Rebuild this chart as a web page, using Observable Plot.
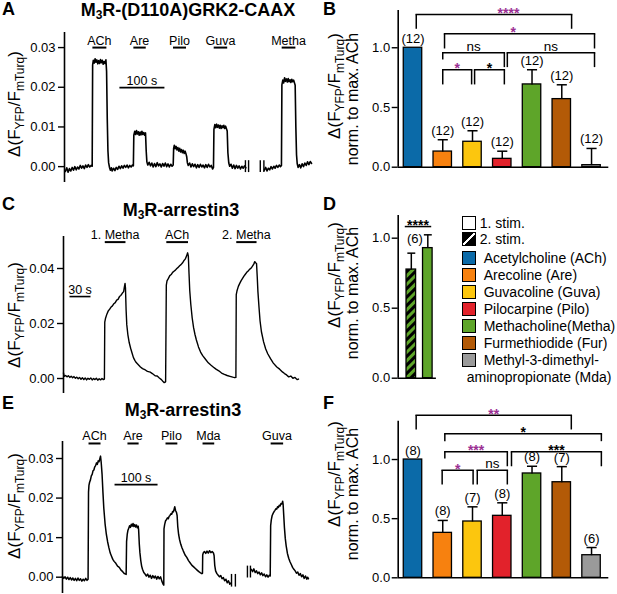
<!DOCTYPE html>
<html><head><meta charset="utf-8">
<script src="https://cdn.jsdelivr.net/npm/d3@7"></script>
<script src="https://cdn.jsdelivr.net/npm/@observablehq/plot@0.6"></script>
<style>
body{margin:0;background:#fff;font-family:"Liberation Sans",Arial,sans-serif;color:#000;}
#fig{position:relative;width:617px;height:594px;overflow:hidden;background:#fff;}
#fig svg{position:absolute;}
.letter{position:absolute;font-weight:bold;font-size:18px;line-height:1;}
.title{position:absolute;font-weight:bold;font-size:18px;line-height:1;white-space:nowrap;transform:translateX(-50%);}
.title sub{font-size:12px;vertical-align:-3px;line-height:0;}
.lrow{position:absolute;display:flex;align-items:center;font-size:14px;white-space:nowrap;height:16px;line-height:16px;}
.box{width:14px;height:14px;border:1px solid #000;box-sizing:border-box;flex:none;}
</style></head><body><div id="fig"></div>
<script>
// ---------- DATA ----------
// Panel A trace (time s, ΔF ratio ×1e-3)
const traceA1 = [[0,-1.2],[3,-0.3],[6,-1.4],[9,-0.5],[12,-1.1],[15,-0.2],[18,-0.9],[21,0.0],[24,-0.8],[27,-0.1],[30,-0.6],[33,0.3],[36,-0.4],[39,0.2],[42,-0.5],[45,0.4],[48,-0.2],[51,0.5],[54,-0.1],[57,0.3],[59.5,0.1],
[60.5,25.6],[62,26.8],[64,26.1],[66,27.2],[68,26.3],[70,26.9],[72,25.9],[74,26.7],[76,26.0],[78,27.0],[80,26.2],[82,26.8],[84,25.8],[86,26.5],[88,26.0],[90,26.9],[91.5,24.0],[93,12.0],[94.5,4.0],[96,1.0],[98,-0.2],[100,-0.9],[102,-0.3],[104,-1.1],[107,-0.4],[110,-1.0],[113,-0.2],[116,-0.7],[119,0.1],[122,-0.5],[125,0.2],[128,-0.4],[131,0.3],[134,-0.2],[137,0.4],[140,-0.3],[143,0.3],[146,-0.1],[149,0.4],
[151,0.2],[152,7.9],[154,8.9],[156,8.1],[158,9.1],[160,8.2],[162,8.8],[164,7.9],[166,8.7],[168,8.0],[170,8.9],[172,8.1],[174,8.6],[176,7.9],[178,8.5],[179.5,4.0],[181,1.2],[183,0.4],[186,1.1],[189,0.2],[192,0.9],[195,-0.1],[198,0.8],[201,0.0],[204,1.0],[207,0.2],[210,0.7],[213,-0.1],[216,0.8],[219,0.1],[222,0.9],[225,0.0],[228,0.7],[231,-0.1],[234,0.6],[237,0.1],[239.5,0.4],
[240.5,4.6],[242,5.4],[244,4.5],[246,5.1],[248,4.2],[250,4.8],[252,3.9],[254,4.6],[256,3.7],[258,4.3],[260,3.5],[262,4.1],[264,3.3],[266,3.9],[268,3.2],[269.5,2.5],[271,1.0],[273,0.3],[276,0.9],[279,-0.1],[282,0.7],[285,0.0],[288,0.6],[291,-0.3],[294,0.5],[297,-0.2],[300,0.6],[303,-0.1],[306,0.4],[309,-0.3],[312,0.5],[315,-0.2],[318,0.6],[321,-0.1],[324,0.3],[327,-0.6],[329,-0.2],
[330,9.4],[332,10.6],[334,9.8],[336,10.7],[338,9.9],[340,10.5],[342,9.7],[344,10.4],[346,9.6],[348,10.3],[350,9.8],[352,10.4],[354,9.6],[356,10.2],[358,9.5],[359.5,9.0],[361,3.5],[363,0.9],[365,0.1],[368,0.6],[371,-0.4],[374,0.4],[377,-0.5],[380,0.3],[383,-0.4],[386,0.2],[389,-0.6],[392,0.1],[395,-0.4],[398,0.2],[401,-0.3]];
const traceA2 = [[442,-0.9],[445,-0.2],[448,-1.1],[451,-0.4],[454,-0.8],[457,0.0],[460,-0.6],[463,0.1],[466,-0.4],[469,0.3],[472,-0.2],[475,0.4],[478,0.0],[480,0.3],
[481,20.6],[483,21.8],[485,21.1],[487,22.4],[489,21.5],[491,22.1],[493,21.3],[495,22.2],[497,21.4],[499,21.9],[501,21.2],[503,22.0],[505,21.4],[507,21.8],[509,21.1],[510.5,20.5],[512,10.0],[513.5,3.0],[515,0.8],[517,-0.2],[520,0.5],[523,-0.3],[526,0.7],[529,0.0],[532,0.9],[535,0.3],[538,1.2],[541,0.5],[544,1.3],[547,0.8]];
const stimsA = [{label:"ACh",on:60,off:91},{label:"Are",on:151,off:178.5},{label:"Pilo",on:239,off:268},{label:"Guva",on:329.5,off:359.5},{label:"Metha",on:480.5,off:511}];
const breaksA = [400,407,433,441];

// Panel C trace
const traceC = [[0,2.0],[1,0.8],[3,1.1],[5,0.6],[7,1.0],[9,0.4],[11,0.8],[13,0.3],[15,0.7],[17,0.1],[19,0.5],[21,-0.1],[23,0.4],[25,-0.3],[27,0.3],[29,-0.4],[31,0.2],[33,-0.5],[35,0.1],[37,-0.3],[39,0.2],[41,-0.5],[43,0.0],[45,-0.4],[47,0.1],[49,-0.6],[51,-0.1],[53,-0.5],[55,0.0],[57,-0.4],[58.5,-0.2],
[59,20.5],[60,21.8],[62,23.4],[64,24.6],[66,25.2],[68,26.0],[70,26.4],[72,27.2],[74,27.6],[76,28.5],[78,28.8],[80,29.8],[82,30.2],[84,31.0],[86,31.6],[87,33.2],[88,34.6],[88.6,33.0],
[89.5,25.0],[90.5,19.5],[92,16.0],[94,13.0],[96,11.0],[98,9.3],[100,7.6],[102,6.6],[104,5.8],[107,5.0],[110,4.2],[113,3.6],[117,3.1],[120,2.6],[124,2.3],[127,1.8],[131,1.0],[134,0.9],[137,0.2],[140,-0.4],[142,-1.0],[144,-1.5],[146,-1.2],
[147,34.0],[148,35.5],[150,36.4],[152,37.4],[154,37.8],[156,38.6],[158,39.0],[160,39.4],[162,40.0],[164,40.4],[166,41.0],[168,41.4],[170,42.0],[172,42.8],[174,43.4],[176,44.6],[177.5,45.7],[178.5,44.5],
[179.5,38.0],[180.5,32.0],[182,27.0],[184,22.0],[186,18.5],[188,16.0],[190,14.0],[193,11.5],[196,9.6],[199,8.3],[203,7.0],[207,5.7],[211,4.8],[214,4.2],[218,3.4],[222,2.8],[226,2.0],[230,1.5],[234,1.1],[238,0.8],[242,0.5],[245,0.3],[246.5,0.4],
[247,30.5],[248,31.8],[250,33.5],[252,34.6],[254,35.6],[256,36.4],[258,37.2],[260,37.9],[262,38.6],[264,39.1],[266,39.7],[268,40.1],[270,40.8],[272,41.6],[273.5,42.5],[275,42.0],[276,41.8],
[277,37.0],[278,31.5],[279.5,26.0],[281,21.0],[283,17.0],[286,13.4],[289,10.8],[292,9.0],[296,7.2],[300,5.6],[305,4.2],[309,3.4],[313,2.4],[316,1.8],[319,1.3],[322,0.6],[325,0.9],[328,0.1],[331,0.4],[334,-0.4],[336,-0.2]];
const stimsC = [{label:"1. Metha",on:59,off:88.6},{label:"ACh",on:147,off:178},{label:"2. Metha",on:247,off:276}];

// Panel E trace
const traceE1 = [[0,0.2],[3,-0.3],[6,0.1],[9,-0.5],[12,0.0],[15,-0.6],[18,-0.1],[21,-0.7],[24,-0.2],[27,-0.8],[30,-0.3],[33,-0.9],[36,-0.2],[39,-0.8],[42,-0.4],[45,-1.0],[48,-0.5],[51,-0.9],[54,-0.3],[57,-0.8],[59.5,-0.5],
[60.5,21.5],[61.5,23.2],[63,24.0],[65,24.6],[67,25.6],[69,26.0],[71,26.9],[73,27.1],[75,27.9],[77,28.2],[79,28.9],[81,28.5],[83,29.4],[85,29.2],[87,30.0],[88.4,30.6],[90,29.0],
[92,26.0],[94,21.5],[96,17.5],[99,13.5],[102,10.8],[105,8.9],[108,7.4],[111,6.1],[114,5.3],[117,4.5],[120,4.0],[124,3.5],[128,2.8],[132,2.5],[136,1.8],[140,1.4],[144,0.9],[148,0.7],
[149,9.0],[150.5,10.8],[152,11.8],[154,12.4],[156,13.0],[158,12.6],[160,13.4],[162,12.9],[164,13.6],[166,12.8],[168,13.3],[170,12.7],[172,13.2],[174,12.5],[176,12.9],[177,12.0],
[178.5,8.5],[180,6.2],[182,4.2],[184,2.8],[186,2.0],[189,1.2],[192,0.8],[195,0.3],[198,0.8],[201,0.0],[204,0.5],[207,-0.3],[210,0.4],[213,-0.2],[216,0.3],[219,-0.5],[222,0.2],[225,-0.4],[228,0.1],[231,-1.0],[234,-1.8],[235.5,-2.0],
[236,12.2],[237.5,13.3],[239.5,14.2],[242,14.6],[244,15.0],[246,14.8],[248,15.4],[250,15.6],[252,16.0],[254,15.9],[256,16.6],[258,16.5],[260,17.4],[261,17.8],[263,16.8],[265,16.4],[266.5,15.6],
[268,12.8],[270,10.8],[272,9.6],[275,8.3],[278,7.4],[281,6.6],[285,5.6],[289,5.0],[293,4.2],[297,3.6],[301,3.0],[305,2.6],[309,2.2],[313,1.8],[317,1.4],[321,1.1],[324,0.9],[325.5,1.0],
[326,5.6],[327.5,6.2],[330,6.5],[333,6.0],[336,6.6],[339,6.1],[342,6.7],[345,6.2],[348,6.5],[351,6.1],[352.5,5.5],
[354,3.0],[356,1.6],[359,0.9],[362,0.5],[365,0.1],[368,0.4],[371,-0.4],[374,-0.1],[377,-0.9],[380,-0.5],[383,-1.4],[386,-0.9],[389,-1.8],[391,-1.5]];
const traceE2 = [[439,2.0],[442,1.4],[445,2.1],[448,1.2],[451,1.6],[454,0.9],[457,1.3],[460,0.6],[463,1.1],[466,0.4],[469,0.8],[472,0.1],[475,0.6],[478,0.0],[481,0.5],[483,0.3],
[484,13.0],[485.5,14.5],[487.5,15.6],[490,16.2],[492,16.6],[494,16.9],[496,17.3],[498,17.2],[500,17.8],[502,17.6],[504,18.2],[506,18.0],[508,18.6],[510,18.5],[512,19.2],[513,18.4],
[514.5,15.5],[516,12.6],[518,9.8],[520,8.0],[523,6.0],[526,4.8],[529,3.9],[532,3.2],[535,2.5],[538,2.0],[541,1.6],[544,1.0],[547,1.3],[550,0.5],[553,0.9],[556,0.1],[559,0.6],[562,-0.3],[565,0.3],[568,-0.5],[570,0.0],[572,-0.4]];
const stimsE = [{label:"ACh",on:60.5,off:88.4},{label:"Are",on:151,off:177},{label:"Pilo",on:239.5,off:267},{label:"Mda",on:325.6,off:352.8},{label:"Guva",on:484,off:513}];
const breaksE = [[393,0.7,-2.5],[402,0.7,-2.5],[430,2.8,-0.2],[437,2.8,-0.2]];

// Bar panels
const agents = ["ACh","Are","Guva","Pilo","Metha","Fur","Mda"];
const agentColors = ["#0b6aa8","#f7810f","#fcc60e","#e2222b","#5ea529","#b35a07","#9a9a9a"];
const meanB = [1.0,0.131,0.213,0.070,0.693,0.570,0.017];
const errB  = [0,0.099,0.092,0.064,0.123,0.120,0.140];
const nB    = [12,12,12,12,12,12,12];
const meanF = [1.0,0.380,0.476,0.524,0.882,0.808,0.191];
const errF  = [0,0.105,0.124,0.110,0.061,0.132,0.065];
const nF    = [8,8,7,8,8,7,6];
const stimD = ["2. stim.","1. stim."];
const meanD = [0.776,0.929];
const errD  = [0.117,0.095];
const nD = 6;

const PURPLE = "#9b2f93";
const sigB = [
  {x1:0.11,x2:5.33,y:1.279,yl:1.159,yr:1.159,label:"****",lx:3.21,color:PURPLE},
  {x1:1.06,x2:6.10,y:1.117,yl:0.994,yr:0.994,label:"*",lx:3.37,color:PURPLE},
  {x1:1.00,x2:3.07,y:0.958,yl:0.902,yr:0.838,label:"ns",color:"#000"},
  {x1:3.17,x2:6.10,y:0.958,yl:0.838,yr:0.838,label:"ns",color:"#000"},
  {x1:1.00,x2:1.97,y:0.816,yl:0.693,yr:0.693,label:"*",color:PURPLE},
  {x1:2.07,x2:3.07,y:0.816,yl:0.693,yr:0.693,label:"*",color:"#000"}
];
const sigF = [
  {x1:0.107,x2:5.32,y:1.375,yl:1.254,yr:1.254,label:"**",color:PURPLE},
  {x1:1.07,x2:6.33,y:1.217,yl:1.155,yr:1.155,label:"*",color:"#000"},
  {x1:1.07,x2:3.17,y:1.065,yl:1.008,yr:0.943,label:"***",color:PURPLE},
  {x1:3.31,x2:6.33,y:1.065,yl:0.943,yr:0.943,label:"***",color:"#000"},
  {x1:0.98,x2:2.02,y:0.910,yl:0.789,yr:0.789,label:"*",color:PURPLE},
  {x1:2.16,x2:3.17,y:0.910,yl:0.789,yr:0.789,label:"ns",color:"#000"}
];
const sigD = [{x1:-0.35,x2:1.16,y:1.083,yl:1.083,yr:1.083,label:"****",color:"#000"}];

const legendRows = [
  {label:"1. stim.", kind:"white"},
  {label:"2. stim.", kind:"hatch"},
  {label:"Acetylcholine (ACh)", color:agentColors[0]},
  {label:"Arecoline (Are)", color:agentColors[1]},
  {label:"Guvacoline (Guva)", color:agentColors[2]},
  {label:"Pilocarpine (Pilo)", color:agentColors[3]},
  {label:"Methacholine(Metha)", color:agentColors[4]},
  {label:"Furmethiodide (Fur)", color:agentColors[5]},
  {label:"Methyl-3-dimethyl-", color:agentColors[6], cont:"aminopropionate (Mda)"}
];

// ---------- HELPERS ----------
const FONT = "'Liberation Sans', Arial, sans-serif";
const fig = document.getElementById("fig");
const toPts = arr => arr.map(([t,v]) => ({t, v: v/1000}));

function place(svg, left, top){ svg.style.left = left+"px"; svg.style.top = top+"px"; fig.appendChild(svg); return svg; }
function html(tag, cls, css, content){ const e = document.createElement(tag); if (cls) e.className = cls; Object.assign(e.style, css); if (content!=null) e.innerHTML = content; fig.appendChild(e); return e; }

function deltaLabel(sel, x, y, size){
  const sub = Math.round(size*0.68);
  const t = sel.append("text").attr("transform",`translate(${x},${y}) rotate(-90)`)
    .attr("text-anchor","middle").attr("font-size",size).attr("font-family",FONT).attr("fill","#000");
  t.append("tspan").text("Δ(F");
  t.append("tspan").attr("font-size",sub).attr("dy",4).text("YFP");
  t.append("tspan").attr("dy",-4).text("/F");
  t.append("tspan").attr("font-size",sub).attr("dy",4).text("mTurq");
  t.append("tspan").attr("dy",-4).text(")");
}
function normLabel(sel, x, y, size){
  sel.append("text").attr("transform",`translate(${x},${y}) rotate(-90)`)
    .attr("text-anchor","middle").attr("font-size",size).attr("font-family",FONT).attr("fill","#000")
    .text("norm. to max. ACh");
}
const style = {fontFamily: FONT, fontSize:"13px", color:"#000", background:"transparent", overflow:"visible"};

function tracePanel(o){
  const marks = [
    Plot.ruleX([o.xdom[0]], {stroke:"#000", strokeWidth:1.6}),
    Plot.axisY({ticks:o.ticks, tickFormat:d3.format(".2f"), tickSize:6, tickPadding:3, fontSize:13, label:null, strokeWidth:1.4}),
    ...o.segs.map(s => Plot.line(toPts(s), {x:"t", y:"v", stroke:"#000", strokeWidth:o.lw})),
    Plot.link(o.stims, {x1:"on", x2:"off", y1:()=>o.barY, y2:()=>o.barY, stroke:"#000", strokeWidth:2}),
    Plot.text(o.stims, {x:d=>(d.on+d.off)/2, y:()=>o.barY, text:"label", fontSize:12.5, lineAnchor:"bottom", dy:-3}),
    Plot.link([o.scale], {x1:d=>d[0], x2:d=>d[1], y1:()=>o.scaleY, y2:()=>o.scaleY, stroke:"#000", strokeWidth:1.6}),
    Plot.text([o.scale], {x:d=>(d[0]+d[1])/2, y:()=>o.scaleY, text:()=>o.scaleText, fontSize:12.5, lineAnchor:"bottom", dy:-3})
  ];
  if (o.breaks) marks.push(Plot.ruleX(o.breaks, {x:d=>d[0], y1:d=>d[1]/1000, y2:d=>d[2]/1000, stroke:"#000", strokeWidth:1.4}));
  return Plot.plot({
    width:o.width, height:o.height, marginLeft:o.ml, marginRight:o.mr, marginTop:o.mt, marginBottom:o.mb,
    x:{domain:o.xdom, axis:null}, y:{domain:o.ydom, axis:null}, style, marks
  });
}

function sigMarks(sig){
  return [
    Plot.link(sig, {x1:"x1", x2:"x2", y1:"y", y2:"y", stroke:"#000", strokeWidth:1.5, strokeLinecap:"square"}),
    Plot.link(sig, {x1:"x1", x2:"x1", y1:"y", y2:"yl", stroke:"#000", strokeWidth:1.5}),
    Plot.link(sig, {x1:"x2", x2:"x2", y1:"y", y2:"yr", stroke:"#000", strokeWidth:1.5}),
    Plot.text(sig.filter(d=>d.label!=="ns"), {x:d=>d.lx ?? (d.x1+d.x2)/2, y:"y", text:"label", fill:"color", fontSize:14, fontWeight:"bold", lineAnchor:"middle", dy:-1}),
    Plot.text(sig.filter(d=>d.label==="ns"), {x:d=>(d.x1+d.x2)/2, y:"y", text:"label", fill:"color", fontSize:13.5, lineAnchor:"bottom", dy:-2})
  ];
}

function barPanel(o){
  const bars = o.means.map((m,i)=>({i, mean:m, err:o.errs[i], n:o.ns ? o.ns[i] : null, color:o.colors[i]}));
  const hw = o.halfWidth;
  const marks = [
    Plot.rect(bars, {x1:d=>d.i-hw, x2:d=>d.i+hw, y1:()=>0, y2:"mean", fill:"color", stroke:"#000", strokeWidth:1.3}),
    Plot.link(bars.filter(d=>d.err>0), {x1:"i", x2:"i", y1:"mean", y2:d=>d.mean+d.err, stroke:"#000", strokeWidth:1.5}),
    Plot.link(bars.filter(d=>d.err>0), {x1:d=>d.i-o.cap, x2:d=>d.i+o.cap, y1:d=>d.mean+d.err, y2:d=>d.mean+d.err, stroke:"#000", strokeWidth:1.5}),
    Plot.ruleX([o.xdom[0]], {stroke:"#000", strokeWidth:1.6}),
    Plot.ruleY([0], {stroke:"#000", strokeWidth:1.6}),
    Plot.axisY({ticks:[0,0.5,1], tickFormat:d3.format(".1f"), tickSize:6, tickPadding:2, fontSize:13, label:null, strokeWidth:1.4})
  ];
  if (o.ns) marks.push(Plot.text(bars, {x:"i", y:d=>d.mean+d.err, text:d=>`(${d.n})`, fontSize:13, lineAnchor:"bottom", dy:-5}));
  if (o.sig) marks.push(...sigMarks(o.sig));
  return Plot.plot({
    width:o.width, height:o.height, marginLeft:o.ml, marginRight:o.mr, marginTop:o.mt, marginBottom:o.mb,
    x:{domain:o.xdom, axis:null}, y:{domain:o.ydom, axis:null}, color:{type:"identity"}, style, marks: [...marks, ...(o.extra||[])]
  });
}

// ---------- PANELS ----------
// A
const svgA = place(tracePanel({width:320, height:195, ml:64, mr:8, mt:32, mb:13, lw:1.6,
  xdom:[-2,549], ydom:[-0.004,0.0338], ticks:[0,0.01,0.02,0.03], segs:[traceA1,traceA2],
  stims:stimsA, barY:0.0300, scale:[120,220], scaleY:0.0199, scaleText:"100 s",
  breaks: breaksA.map(t=>[t,1.5,-1.5])}), 0, 0);
deltaLabel(d3.select(svgA), 20, 104, 17);

// C
const svgC = place(tracePanel({width:320, height:200, ml:63, mr:22, mt:41, mb:2, lw:1.4,
  xdom:[0,336], ydom:[-0.00545,0.05164], ticks:[0,0.02,0.04], segs:[traceC],
  stims:stimsC, barY:0.0496, scale:[8.6,38.6], scaleY:0.0298, scaleText:"30 s"}), 0, 195);
deltaLabel(d3.select(svgC), 20, 120, 17);

// E
const svgE = place(tracePanel({width:320, height:200, ml:62, mr:12, mt:47, mb:1, lw:1.5,
  xdom:[0,572], ydom:[-0.00412,0.0343], ticks:[0,0.01,0.02,0.03], segs:[traceE1,traceE2],
  stims:stimsE, barY:0.0338, scale:[121,221], scaleY:0.0234, scaleText:"100 s",
  breaks: breaksE}), 0, 394);
deltaLabel(d3.select(svgE), 20, 112, 17);

// B
const svgB = place(barPanel({width:297, height:195, ml:77.7, mr:8.7, mt:10, mb:28.3,
  xdom:[-0.497,6.58], ydom:[0,1.312], means:meanB, errs:errB, ns:nB, colors:agentColors,
  halfWidth:0.31, cap:0.17, sig:sigB}), 320, 0);
deltaLabel(d3.select(svgB), 20, 86, 17);
normLabel(d3.select(svgB), 38, 99, 16);

// F
const svgF = place(barPanel({width:297, height:200, ml:77.7, mr:8.7, mt:26.7, mb:16.7,
  xdom:[-0.497,6.58], ydom:[0,1.324], means:meanF, errs:errF, ns:nF, colors:agentColors,
  halfWidth:0.31, cap:0.17, sig:sigF}), 320, 394);
deltaLabel(d3.select(svgF), 20, 80, 17);
normLabel(d3.select(svgF), 38, 100, 16);

// D
const svgD = place(barPanel({width:130, height:200, ml:77.7, mr:14.1, mt:20, mb:17.3,
  xdom:[-0.794,1.52], ydom:[0,1.162], means:meanD, errs:errD, colors:["url(#hatchD)", agentColors[4]],
  halfWidth:0.29, cap:0.24, sig:sigD,
  extra:[Plot.text([nD], {x:()=>0.22, y:()=>0.993, text:d=>`(${d})`, fontSize:13})]}), 320, 195);
{
  const defs = d3.select(svgD).insert("defs", ":first-child");
  const p = defs.append("pattern").attr("id","hatchD").attr("patternUnits","userSpaceOnUse")
    .attr("width",6).attr("height",6).attr("patternTransform","rotate(45)");
  p.append("rect").attr("width",6).attr("height",6).attr("fill",agentColors[4]);
  p.append("rect").attr("width",3).attr("height",6).attr("fill","#000");
}
deltaLabel(d3.select(svgD), 20, 80, 17);
normLabel(d3.select(svgD), 38, 98, 16);

// ---------- LETTERS, TITLES, LEGEND ----------
[["A",2,0],["B",323,0],["C",2,195],["D",323,195],["E",2,394],["F",323,394]]
  .forEach(([t,x,y]) => html("div","letter",{left:x+"px",top:y+"px"},t));
html("div","title",{left:"188px",top:"1px"},"M<sub>3</sub>R-(D110A)GRK2-CAAX");
html("div","title",{left:"181px",top:"201px"},"M<sub>3</sub>R-arrestin3");
html("div","title",{left:"183px",top:"401px"},"M<sub>3</sub>R-arrestin3");

const rowY = [223.3,239,258.3,275.3,292.3,309.3,326.3,343.3,360.3];
legendRows.forEach((r,k) => {
  const row = html("div","lrow",{left:"461.7px", top:(rowY[k]-8)+"px"});
  const b = document.createElement("div"); b.className = "box";
  if (r.kind==="white") b.style.background = "#fff";
  else if (r.kind==="hatch") b.style.background = "linear-gradient(135deg, #000 0 42%, #fff 42% 58%, #000 58%)";
  else b.style.background = r.color;
  row.appendChild(b);
  const s = document.createElement("span"); s.textContent = r.label;
  s.style.marginLeft = r.kind ? "4px" : "8px";
  row.appendChild(s);
  if (r.cont) html("div","lrow",{left:"466.7px", top:(rowY[k]+16.7-8)+"px"}, r.cont);
});
</script>
</body></html>
